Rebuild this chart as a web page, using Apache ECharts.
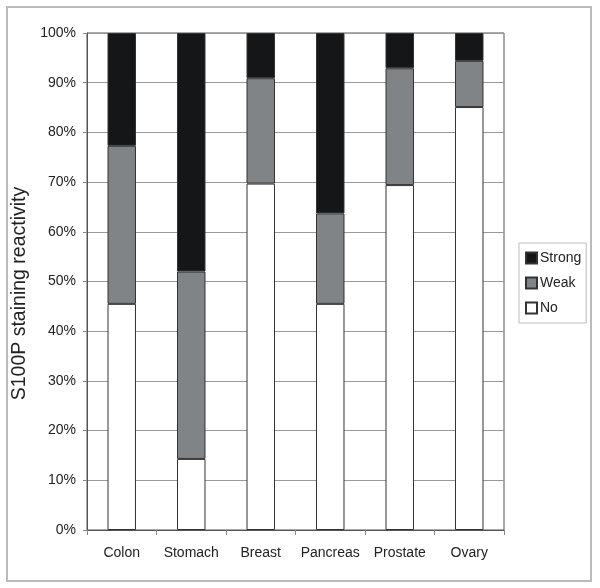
<!DOCTYPE html>
<html>
<head>
<meta charset="utf-8">
<script src="https://cdn.jsdelivr.net/npm/echarts@6/dist/echarts.min.js"></script>
<style>
  html, body { margin: 0; padding: 0; background: #fff; }
  #chart { width: 600px; height: 588px; }
</style>
</head>
<body>
<div id="chart"></div>
<script>
// tissue types along the x axis
const categories = ['Colon', 'Stomach', 'Breast', 'Pancreas', 'Prostate', 'Ovary']
// share of cases per staining level (%)
const noValues = [45.5, 14.3, 69.7, 45.5, 69.4, 85.1]
const weakValues = [31.8, 37.7, 21.2, 18.2, 23.5, 9.3]
const strongValues = [22.7, 48.0, 9.1, 36.3, 7.1, 5.6]
const yTicks = [0, 10, 20, 30, 40, 50, 60, 70, 80, 90, 100]

const chart = echarts.init(document.getElementById('chart'))

const barBorder = { borderColor: '#333', borderWidth: 1 }

const option = {
  animation: false,
  textStyle: { fontFamily: 'Liberation Sans, Arial, sans-serif' },
  graphic: [{
    type: 'rect',
    shape: { x: 7, y: 7, width: 584, height: 574 },
    style: { fill: 'none', stroke: '#bbb', lineWidth: 2 },
    silent: true
  }],
  grid: {
    left: 87,
    top: 33,
    width: 417,
    height: 497,
    show: true,
    borderColor: '#555',
    borderWidth: 1
  },
  legend: {
    orient: 'vertical',
    left: 519,
    top: 243,
    padding: [8, 5, 8, 6],
    icon: 'rect',
    itemWidth: 11,
    itemHeight: 11,
    itemGap: 11,
    borderColor: '#bbb',
    borderWidth: 1,
    borderRadius: 0,
    textStyle: { fontSize: 14, color: '#222', padding: [0, 0, 0, -2] },
    data: ['Strong', 'Weak', 'No']
  },
  xAxis: {
    type: 'category',
    data: categories,
    axisLine: { lineStyle: { color: '#555' } },
    axisTick: { show: true, length: 5, lineStyle: { color: '#888' } },
    axisLabel: { interval: 0, fontSize: 14, color: '#222', margin: 16 }
  },
  yAxis: {
    type: 'value',
    min: 0,
    max: yTicks[yTicks.length - 1],
    interval: yTicks[1] - yTicks[0],
    name: 'S100P staining reactivity',
    nameLocation: 'middle',
    nameRotate: 90,
    nameGap: 54,
    nameTextStyle: { fontSize: 19.5, color: '#222', padding: [0, 24, 0, 0] },
    axisLine: { show: true, lineStyle: { color: '#555' } },
    axisTick: { show: true, length: 4, lineStyle: { color: '#888' } },
    axisLabel: { fontSize: 14, color: '#222', margin: 11, formatter: '{value}%' },
    splitLine: { lineStyle: { color: '#999', width: 1 } }
  },
  series: [
    {
      name: 'No',
      type: 'bar',
      stack: 'total',
      barWidth: '41%',
      data: noValues,
      itemStyle: Object.assign({ color: '#ffffff' }, barBorder)
    },
    {
      name: 'Weak',
      type: 'bar',
      stack: 'total',
      data: weakValues,
      itemStyle: Object.assign({ color: '#808487' }, barBorder)
    },
    {
      name: 'Strong',
      type: 'bar',
      stack: 'total',
      data: strongValues,
      itemStyle: Object.assign({ color: '#151618' }, barBorder)
    }
  ]
}

chart.setOption(option)
window.addEventListener('resize', function () {
  chart.resize()
})
</script>
</body>
</html>
